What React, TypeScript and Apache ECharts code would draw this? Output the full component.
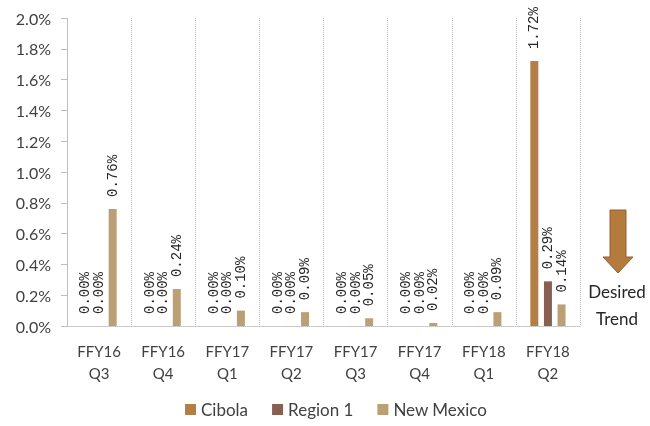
import React, { useEffect, useRef } from "react";
import * as echarts from "echarts";

const categories = ["FFY16\nQ3", "FFY16\nQ4", "FFY17\nQ1", "FFY17\nQ2", "FFY17\nQ3", "FFY17\nQ4", "FFY18\nQ1", "FFY18\nQ2"];
const cibola = [0, 0, 0, 0, 0, 0, 0, 1.72];
const region1 = [0, 0, 0, 0, 0, 0, 0, 0.29];
const newMexico = [0.76, 0.24, 0.1, 0.09, 0.05, 0.02, 0.09, 0.14];
const seriesNames = ["Cibola", "Region 1", "New Mexico"];
const colors = ["#B47E45", "#876052", "#BCA075"];

export default function App() {
  const ref = useRef<HTMLDivElement>(null);
  useEffect(() => {
    if (!ref.current) return;
    const chart = echarts.init(ref.current, undefined, { renderer: "svg" });
    const label = {
      show: true,
      position: "top",
      rotate: 90,
      align: "left",
      verticalAlign: "middle",
      distance: 12,
      fontFamily: "Liberation Mono",
      fontSize: 14,
      color: "#262626",
      formatter: (p: any) => p.value.toFixed(2) + "%",
    };
    const mk = (name: string, data: number[], color: string) => ({
      name,
      type: "bar",
      data,
      barWidth: 8,
      barGap: "70%",
      itemStyle: { color },
      label,
    });
    chart.setOption({
      animation: false,
      textStyle: { fontFamily: "Lato" },
      grid: { left: 67, right: 70, top: 18, bottom: 100 },
      legend: {
        bottom: 3,
        left: 180,
        itemWidth: 11,
        itemHeight: 11,
        itemGap: 24,
        icon: "rect",
        textStyle: { fontFamily: "Lato", fontSize: 17, color: "#404040" },
        data: seriesNames,
      },
      xAxis: {
        type: "category",
        data: categories,
        axisLine: { show: true, lineStyle: { color: "#BFBFBF", type: "dotted" } },
        axisTick: { show: false },
        splitLine: { show: true, lineStyle: { color: "#BFBFBF", type: "dotted" } },
        axisLabel: {
          fontFamily: "Lato",
          fontSize: 15,
          color: "#404040",
          lineHeight: 22,
          margin: 14,
          interval: 0,
        },
      },
      yAxis: {
        type: "value",
        min: 0,
        max: 2.0,
        interval: 0.2,
        axisLine: { show: true, lineStyle: { color: "#BFBFBF", type: "dotted" } },
        axisTick: { show: true, length: 6, lineStyle: { color: "#BFBFBF" } },
        splitLine: { show: false },
        axisLabel: {
          fontFamily: "Lato",
          fontSize: 16,
          color: "#404040",
          margin: 16,
          formatter: (v: number) => v.toFixed(1) + "%",
        },
      },
      series: [
        mk(seriesNames[0], cibola, colors[0]),
        mk(seriesNames[1], region1, colors[1]),
        mk(seriesNames[2], newMexico, colors[2]),
      ],
      graphic: [
        {
          type: "polygon",
          shape: {
            points: [
              [610, 210],
              [626, 210],
              [626, 257],
              [633, 257],
              [618, 273],
              [603, 257],
              [610, 257],
            ],
          },
          style: { fill: "#B47A3E", stroke: "#94612E", lineWidth: 1 },
        },
        {
          type: "text",
          x: 617,
          y: 291,
          style: {
            text: "Desired",
            fontFamily: "Lato",
            fontSize: 17,
            fill: "#262626",
            align: "center",
            verticalAlign: "middle",
          },
        },
        {
          type: "text",
          x: 617,
          y: 318,
          style: {
            text: "Trend",
            fontFamily: "Lato",
            fontSize: 17,
            fill: "#262626",
            align: "center",
            verticalAlign: "middle",
          },
        },
      ],
    });
    return () => chart.dispose();
  }, []);
  return <div ref={ref} style={{ position: "fixed", left: 0, top: 0, width: 650, height: 426 }} />;
}
